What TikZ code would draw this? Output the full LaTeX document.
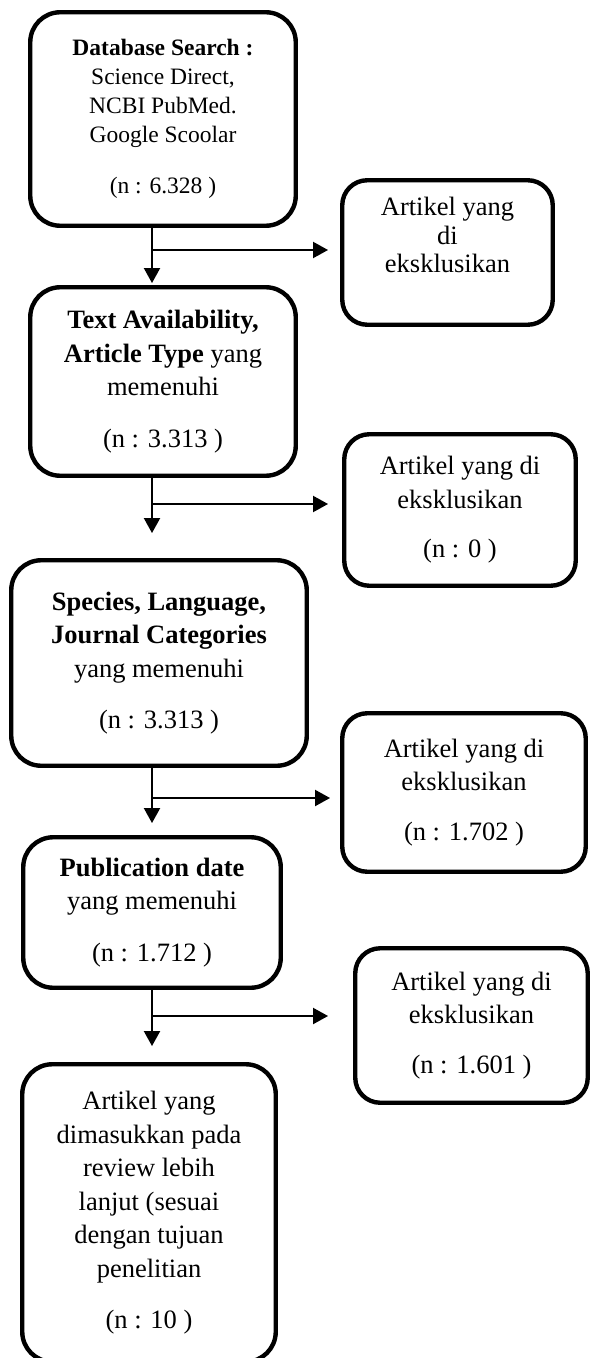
\documentclass[tikz,border=0pt]{standalone}
\usepackage{fontspec}
\setmainfont{Liberation Serif}
\usetikzlibrary{arrows.meta}
\tikzset{box/.style={draw,line width=2.2pt,rounded corners=15pt,align=center,inner sep=0pt,
           font=\fontsize{13.25}{16.75}\selectfont},
         excl/.style={box,rounded corners=12.5pt},
         stem/.style={line width=1pt},
         flow/.style={stem,-{Triangle[length=7.5pt,width=8pt]}}}

\begin{document}
\begin{tikzpicture}[x=0.5pt,y=-0.5pt]
\useasboundingbox (0,0) rectangle (591,1358);
\clip (0,0) rectangle (591,1358);
\node[box,font=\fontsize{11.75}{14.5}\selectfont,minimum width=132.75pt,minimum height=106.75pt]
  (search) at (163,119)
  {\textbf{Database Search :}\\ Science Direct,\\ NCBI PubMed.\\ Google Scoolar\\[11pt] (n : 6.328 )};
\node[box,minimum width=132.75pt,minimum height=94.25pt] (avail) at (163,381.5)
  {\textbf{Text Availability,}\\ \textbf{Article Type} yang\\ memenuhi\\[9pt] (n : 3.313 )};
\node[box,minimum width=147.75pt,minimum height=102.75pt] (species) at (159,663)
  {\textbf{Species, Language,}\\ \textbf{Journal Categories}\\ yang memenuhi\\[9pt] (n : 3.313 )};
\node[box,minimum width=128.75pt,minimum height=75.25pt] (pubdate) at (152,912.5)
  {\textbf{Publication date}\\ yang memenuhi\\[9pt] (n : 1.712 )};
\node[box,minimum width=126.75pt,minimum height=148.75pt] (incl) at (149,1213)
  {Artikel yang\\ dimasukkan pada\\ review lebih\\ lanjut (sesuai\\ dengan tujuan\\ penelitian\\[9pt] (n : 10 )};
\node[excl,font=\fontsize{13.25}{14.25}\selectfont,text depth=17.5pt,
  minimum width=105.25pt,minimum height=72.25pt] (ex1) at (447.5,252.5)
  {Artikel yang\\ di\\ eksklusikan};
\node[excl,minimum width=115.75pt,minimum height=75.75pt] (ex2) at (460,510)
  {Artikel yang di\\ eksklusikan\\[8pt] (n : 0 )};
\node[excl,minimum width=121.75pt,minimum height=79.25pt] (ex3) at (464,792.5)
  {Artikel yang di\\ eksklusikan\\[8pt] (n : 1.702 )};
\node[excl,minimum width=116.25pt,minimum height=77.25pt] (ex4) at (471.5,1025.5)
  {Artikel yang di\\ eksklusikan\\[8pt] (n : 1.601 )};

\coordinate (b1) at (152,250);
\coordinate (b2) at (152,504);
\coordinate (b3) at (152,798);
\coordinate (b4) at (152,1016);
\draw[stem] (search.south -| b1) -- (b1);
\draw[flow,shorten >=1pt] (b1) -- (avail.north -| b1);
\draw[flow,shorten >=6pt] (b1) -- (b1 -| ex1.west);
\draw[stem] (avail.south -| b2) -- (b2);
\draw[flow,shorten >=12.5pt] (b2) -- (species.north -| b2);
\draw[flow,shorten >=7pt] (b2) -- (b2 -| ex2.west);
\draw[stem] (species.south -| b3) -- (b3);
\draw[flow,shorten >=6pt] (b3) -- (pubdate.north -| b3);
\draw[flow,shorten >=5pt] (b3) -- (b3 -| ex3.west);
\draw[stem] (pubdate.south -| b4) -- (b4);
\draw[flow,shorten >=8pt] (b4) -- (incl.north -| b4);
\draw[flow,shorten >=12.5pt] (b4) -- (b4 -| ex4.west);
\end{tikzpicture}
\end{document}
